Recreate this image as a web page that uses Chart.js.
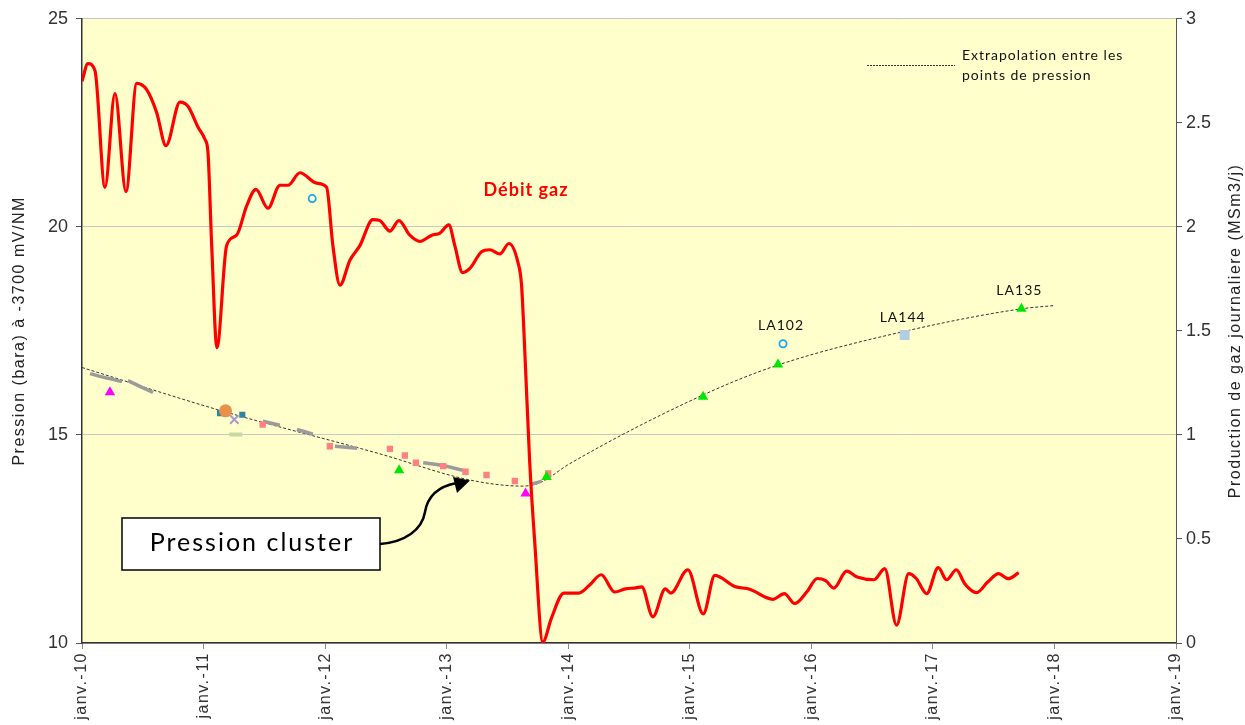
<!DOCTYPE html>
<html><head><meta charset="utf-8">
<script src="https://cdn.jsdelivr.net/npm/chart.js@4.4.1/dist/chart.umd.min.js"></script>
<style>html,body{margin:0;padding:0;background:#fff;}#wrap{width:1245px;height:725px;position:relative;}</style>
</head><body><div id="wrap"><canvas id="c"></canvas></div>
<script>
// ---- data ----
const yearTicks = [2010,2011,2012,2013,2014,2015,2016,2017,2018,2019];

const gasYears = [2010.000,2010.049,2010.107,2010.189,2010.271,2010.362,2010.450,2010.532,2010.614,2010.691,2010.806,2010.872,2010.954,2011.012,2011.036,2011.067,2011.110,2011.190,2011.272,2011.354,2011.431,2011.530,2011.628,2011.694,2011.793,2011.930,2012.012,2012.064,2012.122,2012.204,2012.286,2012.393,2012.451,2012.533,2012.607,2012.697,2012.780,2012.878,2012.944,2013.018,2013.067,2013.131,2013.191,2013.287,2013.355,2013.438,2013.512,2013.586,2013.616,2013.643,2013.683,2013.724,2013.791,2013.862,2013.964,2014.087,2014.174,2014.271,2014.383,2014.470,2014.556,2014.605,2014.696,2014.799,2014.844,2014.984,2015.111,2015.206,2015.370,2015.493,2015.683,2015.778,2015.863,2015.962,2016.049,2016.118,2016.184,2016.291,2016.377,2016.516,2016.604,2016.701,2016.801,2016.863,2016.949,2017.044,2017.113,2017.193,2017.262,2017.360,2017.451,2017.541,2017.620,2017.706];
const gasRate  = [2.70,2.785,2.75,2.19,2.64,2.17,2.69,2.66,2.55,2.39,2.60,2.58,2.48,2.42,2.36,1.91,1.42,1.91,1.96,2.10,2.18,2.09,2.20,2.20,2.26,2.21,2.19,1.91,1.72,1.84,1.91,2.035,2.03,1.98,2.03,1.96,1.93,1.96,1.97,2.01,1.91,1.78,1.80,1.88,1.89,1.87,1.92,1.83,1.72,1.40,0.87,0.49,0.005,0.12,0.24,0.24,0.277,0.328,0.245,0.26,0.265,0.27,0.126,0.26,0.24,0.352,0.14,0.325,0.272,0.258,0.21,0.237,0.19,0.245,0.31,0.30,0.264,0.345,0.317,0.304,0.357,0.086,0.333,0.31,0.237,0.362,0.304,0.352,0.285,0.242,0.293,0.333,0.309,0.338];

const extrapYears = [2010.0,2011.135,2012.451,2013.191,2013.627,2013.766,2014.013,2015.109,2015.726,2016.768,2017.728,2018.002];
const extrapP     = [16.62,15.59,14.545,13.917,13.77,13.85,14.31,15.96,16.68,17.49,18.03,18.11];

const clusterYears = [2010.066,2010.189,2010.329,2010.35,2010.378,2010.584,2011.0,2011.488,2011.628,2011.70,2011.768,2011.900,2012.0,2012.081,2012.262,2012.5,2012.807,2012.958,2013.136,2013.4,2013.701,2013.783];
const clusterP     = [16.473,16.377,16.282,null,16.306,16.019,null,15.327,15.231,null,15.135,15.016,null,14.729,14.682,null,14.33,14.27,14.15,null,13.82,13.89];

const pinkYears = [2011.486,2012.039,2012.533,2012.656,2012.747,2012.971,2013.155,2013.328,2013.561,2013.835];
const pinkP     = [15.248,14.729,14.665,14.507,14.331,14.252,14.116,14.037,13.894,14.077];

const magentaYears = [2010.230,2013.649];
const magentaP     = [16.026,13.59];

const greenYears = [2012.609,2013.822,2015.109,2015.726,2017.728];
const greenP     = [14.15,13.99,15.92,16.69,18.03];

const cyanYears = [2011.894,2015.767];
const cyanP     = [20.68,17.19];

const blueSqYears = [2016.768];
const blueSqP     = [17.40];

const orangeYears = [2011.181];
const orangeP     = [15.58];

const tealYears = [2011.135,2011.319];
const tealP     = [15.525,15.487];

const crossYears = [2011.253];
const crossP     = [15.37];

const dashYears = [2011.266];
const dashP     = [15.01];

const wellNames = ['LA102','LA144','LA135'];
const wellYears = [2015.767,2016.768,2017.728];
const wellP     = [17.19,17.40,18.03];

// ---- helpers ----
const pts = (xs, ys) => xs.map((x, i) => ({x: x, y: ys[i]}));
const marker = (xs, ys, o) => Object.assign({data: pts(xs, ys), showLine: false, yAxisID: 'y', borderWidth: 0}, o);

const TXT = '"Liberation Sans", Arial, sans-serif';
const CAL = 'Lato, "Open Sans", sans-serif';

const bgPlugin = {
  id: 'bg',
  beforeDraw(chart) {
    const {ctx, chartArea: a} = chart;
    ctx.save();
    ctx.fillStyle = '#ffffcc';
    ctx.fillRect(a.left, a.top, a.right - a.left, a.bottom - a.top);
    ctx.restore();
    ctx.letterSpacing = '1.5px';
  },
  beforeDatasetsDraw(chart) { chart.ctx.letterSpacing = '0px'; }
};

const annoPlugin = {
  id: 'anno',
  afterDraw(chart) {
    const {ctx, chartArea: a, scales} = chart;
    const xs = scales.x, ys = scales.y;
    ctx.save();
    // axis titles
    ctx.letterSpacing = '1.5px';
    ctx.fillStyle = '#222';
    ctx.font = '16px ' + TXT;
    ctx.textAlign = 'center'; ctx.textBaseline = 'middle';
    ctx.save(); ctx.translate(20, (a.top + a.bottom) / 2); ctx.rotate(-Math.PI / 2);
    ctx.fillText('Pression (bara) à -3700 mV/NM', 0, 0); ctx.restore();
    ctx.save(); ctx.translate(1236, (a.top + a.bottom) / 2); ctx.rotate(-Math.PI / 2);
    ctx.fillText('Production de gaz journaliere (MSm3/j)', 0, 0); ctx.restore();

    // Débit gaz
    ctx.letterSpacing = '1px';
    ctx.fillStyle = '#ff0000';
    ctx.font = 'bold 18px ' + CAL;
    ctx.textAlign = 'center';
    ctx.fillText('Débit gaz', 526, 190);

    // well labels
    ctx.fillStyle = '#111';
    ctx.font = '14px ' + CAL;
    wellNames.forEach((n, i) => {
      ctx.fillText(n, xs.getPixelForValue(wellYears[i]) - 2, ys.getPixelForValue(wellP[i]) - 18);
    });

    // legend
    ctx.strokeStyle = '#333'; ctx.lineWidth = 1; ctx.setLineDash([2, 1]);
    ctx.beginPath(); ctx.moveTo(867, 65.5); ctx.lineTo(955, 65.5); ctx.stroke();
    ctx.setLineDash([]);
    ctx.fillStyle = '#111'; ctx.textAlign = 'left'; ctx.font = '14px ' + CAL;
    ctx.fillText('Extrapolation entre les', 962, 55);
    ctx.fillText('points de pression', 962, 75);

    // box
    ctx.fillStyle = '#fff'; ctx.fillRect(122, 518, 258, 52);
    ctx.strokeStyle = '#000'; ctx.lineWidth = 1.5; ctx.strokeRect(122, 518, 258, 52);
    ctx.letterSpacing = '2px';
    ctx.fillStyle = '#000'; ctx.textAlign = 'center'; ctx.font = '25px ' + CAL;
    ctx.fillText('Pression cluster', 252, 543);
    ctx.letterSpacing = '0px';

    // arrow
    ctx.lineWidth = 2.5; ctx.strokeStyle = '#000';
    ctx.beginPath();
    ctx.moveTo(380, 544);
    ctx.bezierCurveTo(405, 542, 422, 530, 425, 512);
    ctx.bezierCurveTo(428, 494, 440, 486, 457, 483);
    ctx.stroke();
    ctx.beginPath();
    ctx.moveTo(470, 480.5); ctx.lineTo(453, 477); ctx.lineTo(457, 493); ctx.closePath();
    ctx.fillStyle = '#000'; ctx.fill();
    ctx.restore();
  }
};

new Chart(document.getElementById('c'), {
  type: 'scatter',
  data: {
    datasets: [
      {data: pts(gasYears, gasRate), yAxisID: 'y1', showLine: true, borderColor: '#ff0000', borderWidth: 3.2, pointRadius: 0, cubicInterpolationMode: 'monotone', fill: false},
      marker(orangeYears, orangeP, {pointStyle: 'circle', pointRadius: 6.5, backgroundColor: '#e8914a'}),
      marker(magentaYears, magentaP, {pointStyle: 'triangle', pointRadius: 6, backgroundColor: '#ff00ff'}),
      marker(greenYears, greenP, {pointStyle: 'triangle', pointRadius: 6, backgroundColor: '#00e600'}),
      marker(cyanYears, cyanP, {pointStyle: 'circle', pointRadius: 3.6, backgroundColor: 'rgba(0,0,0,0)', borderColor: '#1aa6ee', borderWidth: 1.8}),
      marker(blueSqYears, blueSqP, {pointStyle: 'rect', pointRadius: 7, backgroundColor: '#b3cde5'}),
      marker(tealYears, tealP, {pointStyle: 'rect', pointRadius: 4.3, backgroundColor: '#31849b'}),
      marker(crossYears, crossP, {pointStyle: 'crossRot', pointRadius: 6, borderColor: '#a99bcb', borderWidth: 2}),
      marker(dashYears, dashP, {pointStyle: 'line', pointRadius: 6.5, borderColor: '#c7d9a3', borderWidth: 4}),
      marker(pinkYears, pinkP, {pointStyle: 'rect', pointRadius: 4.5, backgroundColor: '#ff7f82'}),
      {data: pts(clusterYears, clusterP), yAxisID: 'y', showLine: true, spanGaps: false, borderColor: '#9b9b9b', borderWidth: 3.5, pointRadius: 0, tension: 0.3},
      {data: pts(extrapYears, extrapP), yAxisID: 'y', showLine: true, borderColor: '#333', borderWidth: 1, borderDash: [3, 2], pointRadius: 0, cubicInterpolationMode: 'monotone'}
    ]
  },
  options: {
    responsive: true, maintainAspectRatio: false, animation: false,
    layout: {padding: {top: 15, left: 0, right: 0, bottom: 0}},
    plugins: {legend: {display: false}, tooltip: {enabled: false}},
    scales: {
      x: {
        type: 'linear', min: 2010, max: 2019,
        afterBuildTicks: s => { s.ticks = yearTicks.map(v => ({value: v})); },
        afterFit: s => { s.height = 82; },
        ticks: {minRotation: 90, maxRotation: 90, padding: 3, color: '#333', font: {family: TXT, size: 16},
                callback: v => 'janv.-' + String(v).slice(2)},
        grid: {drawOnChartArea: false, drawTicks: true, tickLength: 6, tickColor: '#8a8a8a'},
        border: {color: '#333', width: 1.5}
      },
      y: {
        position: 'left', min: 10, max: 25,
        afterBuildTicks: s => { s.ticks = [10, 15, 20, 25].map(v => ({value: v})); },
        afterFit: s => { s.width = 82; },
        ticks: {padding: 8, color: '#333', font: {family: TXT, size: 18}, z: 1},
        grid: {color: '#c6c6c6', lineWidth: 1, tickLength: 6, tickColor: '#555'},
        border: {color: '#333', width: 1.5}
      },
      y1: {
        position: 'right', min: 0, max: 3,
        afterBuildTicks: s => { s.ticks = [0, 0.5, 1, 1.5, 2, 2.5, 3].map(v => ({value: v})); },
        afterFit: s => { s.width = 69; },
        ticks: {padding: 4, color: '#333', font: {family: TXT, size: 18}, z: 1, callback: v => String(v)},
        grid: {drawOnChartArea: false, tickLength: 6, tickColor: '#555'},
        border: {color: '#555', width: 1}
      }
    }
  },
  plugins: [bgPlugin, annoPlugin]
});
</script></body></html>
